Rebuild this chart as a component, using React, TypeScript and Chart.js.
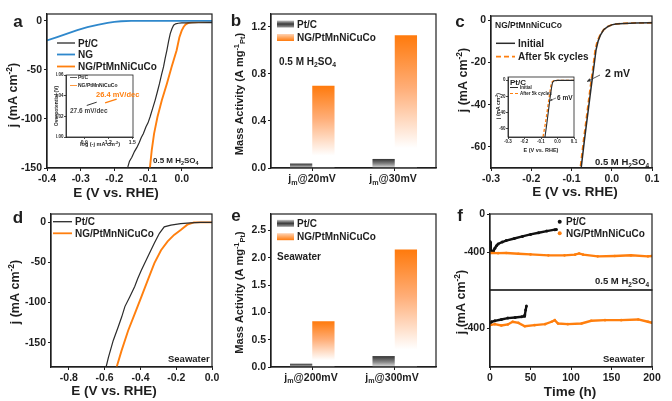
import React, { useEffect, useRef } from 'react';
import { Chart, registerables } from 'chart.js';
Chart.register(...registerables);

const FAM = "'Liberation Sans', Arial, Helvetica, sans-serif";
const W = 672, H = 401;
const INK = '#1e1e1e';
const ORANGE = '#ff7f0e';
const BLUE = '#2f88cc';
const BLACK = '#2b2b2b';

// ---------- panel a ----------
const A_X_TICKS = [-0.4, -0.3, -0.2, -0.1, 0.0];
const A_Y_TICKS = [0, -50, -100, -150];
const A_PTC_E = [0.09, 0.05, 0.02, 0.0, -0.01, -0.018, -0.024, -0.029, -0.034, -0.039, -0.044, -0.049, -0.054, -0.06, -0.066, -0.072, -0.079, -0.086, -0.094, -0.1, -0.106, -0.114, -0.12, -0.126, -0.133, -0.14, -0.148, -0.155, -0.16, -0.166];
const A_PTC_J = [-1.8, -1.9, -2.0, -2.1, -2.4, -3, -4.4, -8, -13, -21, -30, -38, -47, -55, -64, -72, -81, -89, -98, -104, -108, -115, -119, -124, -129, -133, -139, -143, -149, -152];
const A_NG_E = [-0.4, -0.37, -0.34, -0.31, -0.28, -0.25, -0.22, -0.2, -0.18, -0.15, -0.1, 0.0, 0.09];
const A_NG_J = [-20, -16.5, -13, -9.5, -6.5, -4, -2, -1, -0.4, -0.1, 0, 0, 0];
const A_HEA_E = [0.09, 0.05, 0.03, 0.02, 0.012, 0.006, 0.0, -0.007, -0.015, -0.03, -0.044, -0.059, -0.072, -0.082, -0.089, -0.095];
const A_HEA_J = [-1.2, -1.3, -1.5, -2, -3.5, -6, -10, -17, -30, -47, -64, -81, -98, -115, -132, -152];
// inset a
const AI_X_TICKS = [0.9, 1.2, 1.5];
const AI_Y_TICKS = [0.0, 0.02, 0.04, 0.06];
const AI_PTC_X = [0.93, 1.055];
const AI_PTC_Y = [0.0305, 0.0337];
const AI_HEA_X = [1.16, 1.305];
const AI_HEA_Y = [0.033, 0.0366];

// ---------- panel b ----------
const B_CATS = ['20mV', '30mV'];
const B_Y_TICKS = [0.0, 0.4, 0.8, 1.2];
const B_PTC = [0.038, 0.077];
const B_HEA = [0.70, 1.13];

// ---------- panel c ----------
const C_X_TICKS = [-0.3, -0.2, -0.1, 0.0, 0.1];
const C_Y_TICKS = [0, -20, -40, -60];
const C_INIT_E = [0.1, 0.06, 0.03, 0.01, 0.0, -0.01, -0.02, -0.028, -0.034, -0.039, -0.045, -0.052, -0.06, -0.068, -0.076];
const C_INIT_J = [-1.2, -1.3, -1.5, -1.8, -2.2, -3, -4.5, -7, -10, -14, -23, -33, -45, -57, -70];
const C_AFTER_E = [0.1, 0.06, 0.03, 0.01, 0.0, -0.01, -0.02, -0.029, -0.036, -0.041, -0.047, -0.054, -0.062, -0.07, -0.078];
const C_AFTER_J = [-1.2, -1.3, -1.5, -1.8, -2.2, -3, -4.5, -7, -10, -14, -23, -33, -45, -57, -70];
// inset c (Pt/C)
const CI_X_TICKS = [-0.3, -0.2, -0.1, 0.0, 0.1];
const CI_Y_TICKS = [0, -20, -40, -60];
const CI_INIT_E = [0.1, 0.0, -0.02, -0.03, -0.035, -0.045, -0.055, -0.065, -0.076];
const CI_INIT_J = [-0.5, -0.5, -1, -3, -8, -22, -38, -54, -70];
const CI_AFTER_E = [0.1, 0.0, -0.025, -0.035, -0.041, -0.051, -0.062, -0.074, -0.088];
const CI_AFTER_J = [-0.5, -0.5, -1, -3, -8, -22, -38, -54, -70];

// ---------- panel d ----------
const D_X_TICKS = [-0.8, -0.6, -0.4, -0.2, 0.0];
const D_Y_TICKS = [0, -50, -100, -150];
const D_PTC_E = [0.0, -0.064, -0.12, -0.175, -0.23, -0.267, -0.294, -0.322, -0.359, -0.395, -0.415, -0.432, -0.46, -0.487, -0.505, -0.524, -0.552, -0.579, -0.592];
const D_PTC_J = [-0.4, -0.4, -1, -2, -3.75, -6, -14, -26, -43, -60, -70, -80, -93, -105, -118, -130, -147, -168, -180];
const D_HEA_E = [0.0, -0.101, -0.138, -0.175, -0.212, -0.248, -0.285, -0.322, -0.359, -0.395, -0.432, -0.469, -0.506, -0.533];
const D_HEA_J = [-0.4, -0.4, -3.3, -10, -16, -24, -35, -51, -72, -93, -114, -135, -160, -180];

// ---------- panel e ----------
const E_CATS = ['200mV', '300mV'];
const E_Y_TICKS = [0.0, 0.5, 1.0, 1.5, 2.0, 2.5];
const E_PTC = [0.06, 0.2];
const E_HEA = [0.835, 2.15];

// ---------- panel f ----------
const F_X_TICKS = [0, 50, 100, 150, 200];
const F_TOP_Y_TICKS = [0, -400];
const F_BOT_Y_TICKS = [-400];
const F_T_PTC_T = [0, 1, 2, 3, 4, 6, 8, 10, 15, 20, 30, 40, 50, 60, 70, 80, 82];
const F_T_PTC_J = [-290, -370, -400, -405, -395, -360, -335, -315, -295, -280, -258, -236, -215, -197, -180, -165, -162];
const F_T_HEA_T = [0, 10, 20, 35, 50, 72, 92, 105, 110, 115, 133, 154, 174, 195, 200];
const F_T_HEA_J = [-411, -412, -411, -418, -425, -435, -435, -428, -415, -428, -446, -442, -435, -446, -442];
const F_B_PTC_T = [0, 2, 6, 14, 22, 31, 39, 42, 43, 44, 45];
const F_B_PTC_J = [-355, -330, -320, -306, -292, -285, -278, -272, -261, -209, -167];
const F_B_HEA_T = [0, 6, 14, 22, 28, 35, 43, 55, 68, 76, 80, 84, 96, 113, 125, 142, 162, 183, 195, 200];
const F_B_HEA_J = [-365, -355, -369, -358, -330, -341, -376, -365, -355, -330, -313, -348, -355, -348, -320, -313, -313, -306, -330, -341];

// ---------- helpers ----------
const zip = (xs: number[], ys: number[]) => xs.map((x, i) => ({ x, y: ys[i] }));
const f1 = (v: number) => { const s = v.toFixed(1); return s === '-0.0' ? '0.0' : s; };
const f2 = (v: number) => v.toFixed(2);
const f0 = (v: number) => String(Math.round(v));

type Seg = { t: string; m?: 'sub' | 'sup' };
function parse(s: string): Seg[] {
  const segs: Seg[] = [];
  const re = /([_^])\{([^}]*)\}/g;
  let last = 0; let m: RegExpExecArray | null;
  while ((m = re.exec(s))) {
    if (m.index > last) segs.push({ t: s.slice(last, m.index) });
    segs.push({ t: m[2], m: m[1] === '_' ? 'sub' : 'sup' });
    last = re.lastIndex;
  }
  if (last < s.length) segs.push({ t: s.slice(last) });
  return segs;
}
function txt(ctx: CanvasRenderingContext2D, s: string, x: number, y: number, size: number, o: any = {}) {
  const { color = INK, align = 'left', rot = false, weight = 'bold' } = o;
  const segs = parse(s);
  ctx.save();
  const fontFor = (sg: Seg) => `${weight} ${sg.m ? size * 0.68 : size}px ${FAM}`;
  const ws = segs.map((sg) => { ctx.font = fontFor(sg); return ctx.measureText(sg.t).width; });
  const tot = ws.reduce((a, b) => a + b, 0);
  ctx.translate(x, y);
  if (rot) ctx.rotate(-Math.PI / 2);
  let cx = align === 'left' ? 0 : align === 'center' ? -tot / 2 : -tot;
  ctx.fillStyle = color; ctx.textBaseline = 'alphabetic'; ctx.textAlign = 'left';
  segs.forEach((sg, i) => {
    ctx.font = fontFor(sg);
    const dy = sg.m === 'sub' ? size * 0.22 : sg.m === 'sup' ? -size * 0.4 : 0;
    ctx.fillText(sg.t, cx, size * 0.36 + dy);
    cx += ws[i];
  });
  ctx.restore();
}
function ln(ctx: CanvasRenderingContext2D, x1: number, y1: number, x2: number, y2: number, color: string, w: number, dash: number[] = []) {
  ctx.save(); ctx.strokeStyle = color; ctx.lineWidth = w; ctx.setLineDash(dash);
  ctx.beginPath(); ctx.moveTo(x1, y1); ctx.lineTo(x2, y2); ctx.stroke(); ctx.restore();
}
function arrow(ctx: CanvasRenderingContext2D, x1: number, y1: number, x2: number, y2: number, color: string, w: number, head: number) {
  ln(ctx, x1, y1, x2, y2, color, w);
  const a = Math.atan2(y2 - y1, x2 - x1);
  ctx.save(); ctx.fillStyle = color; ctx.beginPath();
  ctx.moveTo(x2, y2);
  ctx.lineTo(x2 - head * Math.cos(a - 0.45), y2 - head * Math.sin(a - 0.45));
  ctx.lineTo(x2 - head * Math.cos(a + 0.45), y2 - head * Math.sin(a + 0.45));
  ctx.closePath(); ctx.fill(); ctx.restore();
}
function dot(ctx: CanvasRenderingContext2D, x: number, y: number, r: number, color: string) {
  ctx.save(); ctx.fillStyle = color; ctx.beginPath(); ctx.arc(x, y, r, 0, Math.PI * 2); ctx.fill(); ctx.restore();
}
function gradBox(ctx: CanvasRenderingContext2D, x: number, y: number, w: number, h: number, kind: string) {
  const g = ctx.createLinearGradient(0, y, 0, y + h);
  if (kind === 'o') { g.addColorStop(0, '#ffd3b4'); g.addColorStop(1, '#ff7a0c'); }
  else { g.addColorStop(0, '#c8c8c8'); g.addColorStop(0.5, '#3a3a3a'); g.addColorStop(1, '#9a9a9a'); }
  ctx.save(); ctx.fillStyle = g; ctx.fillRect(x, y, w, h); ctx.restore();
}

type Area = { l: number; r: number; t: number; b: number };
function linAxis(spec: any, isX: boolean, thick: number) {
  return {
    type: 'linear',
    position: isX ? 'bottom' : 'left',
    min: spec.min, max: spec.max,
    display: spec.display ?? true,
    afterBuildTicks: (s: any) => { s.ticks = spec.ticks.map((v: number) => ({ value: v })); },
    afterFit: (s: any) => {
      if (isX) s.height = thick; else s.width = thick;
      s.paddingLeft = 0; s.paddingRight = 0; s.paddingTop = 0; s.paddingBottom = 0;
    },
    grid: { display: true, drawOnChartArea: false, drawTicks: true, tickLength: spec.tickLen ?? 3, color: INK, lineWidth: spec.lw ?? 1 },
    border: { display: true, color: INK, width: spec.lw ?? 1.2 },
    ticks: {
      display: spec.labels ?? true, autoSkip: false, maxRotation: 0, minRotation: 0,
      padding: spec.pad ?? 2, color: INK,
      font: { family: FAM, size: spec.size ?? 10.5, weight: 'bold' },
      callback: (v: any) => spec.fmt(Number(v)),
    },
  };
}
function baseOpts(area: Area, yw: number, xh: number, scales: any) {
  return {
    responsive: false, animation: false, devicePixelRatio: 1, events: [],
    layout: { autoPadding: false, padding: { left: area.l - yw, top: area.t, right: W - area.r, bottom: H - area.b - xh } },
    plugins: { legend: { display: false }, tooltip: { enabled: false }, title: { display: false } },
    scales,
  };
}
function framePlugin(draw: (ctx: CanvasRenderingContext2D, chart: any) => void, lw = 1.2) {
  return {
    id: 'extras',
    afterDraw: (chart: any) => {
      const ctx = chart.ctx; const a = chart.chartArea;
      ctx.save(); ctx.strokeStyle = INK; ctx.lineWidth = lw;
      ctx.strokeRect(a.left, a.top, a.right - a.left, a.bottom - a.top); ctx.restore();
      draw(ctx, chart);
    },
  };
}
function lineDs(xs: number[], ys: number[], color: string, w: number, dash: number[] = [], pr = 0) {
  return { data: zip(xs, ys), showLine: true, borderColor: color, backgroundColor: color, borderWidth: w, borderDash: dash, pointRadius: pr, pointBorderWidth: 0, tension: 0 };
}
function lineChart(cv: HTMLCanvasElement, area: Area, yw: number, xh: number, xs: any, ys: any, datasets: any[], draw: any, lw = 1.2) {
  return new Chart(cv, {
    type: 'scatter',
    data: { datasets },
    options: baseOpts(area, yw, xh, { x: linAxis(xs, true, xh), y: linAxis(ys, false, yw) }) as any,
    plugins: [framePlugin(draw, lw)],
  } as any);
}
function barGrad(kind: string) {
  return (c: any) => {
    const chart = c.chart;
    if (!chart.chartArea || c.type !== 'data') return kind === 'o' ? ORANGE : '#555';
    const ys = chart.scales.y;
    const top = ys.getPixelForValue(c.raw); const base = ys.getPixelForValue(0);
    const g = chart.ctx.createLinearGradient(0, top, 0, base + 0.01);
    if (kind === 'o') { g.addColorStop(0, '#ff7a0c'); g.addColorStop(0.4, '#ffae78'); g.addColorStop(0.85, '#ffffff'); g.addColorStop(1, '#ffffff'); }
    else { g.addColorStop(0, '#333333'); g.addColorStop(0.55, '#888888'); g.addColorStop(1, '#e4e4e4'); }
    return g;
  };
}
function barChart(cv: HTMLCanvasElement, area: Area, cats: string[], ptc: number[], hea: number[], ys: any, draw: any) {
  const yw = 30, xh = 20;
  return new Chart(cv, {
    type: 'bar',
    data: {
      labels: cats,
      datasets: [
        { data: ptc, backgroundColor: barGrad('g'), borderWidth: 0, categoryPercentage: 0.54, barPercentage: 1.0 },
        { data: hea, backgroundColor: barGrad('o'), borderWidth: 0, categoryPercentage: 0.54, barPercentage: 1.0 },
      ],
    },
    options: baseOpts(area, yw, xh, {
      x: {
        type: 'category', offset: true,
        afterFit: (s: any) => { s.height = xh; s.paddingLeft = 0; s.paddingRight = 0; },
        grid: { display: true, offset: false, drawOnChartArea: false, drawTicks: true, tickLength: 3, color: INK },
        border: { display: true, color: INK, width: 1.2 },
        ticks: { display: false },
      },
      y: linAxis(ys, false, yw),
    }) as any,
    plugins: [framePlugin(draw)],
  } as any);
}

// ---------- areas ----------
const AR_A = { l: 47, r: 212, t: 14, b: 168 };
const AR_AI = { l: 66, r: 133, t: 75, b: 137 };
const AR_B = { l: 271, r: 436, t: 14, b: 168 };
const AR_C = { l: 491, r: 652, t: 16, b: 168 };
const AR_CI = { l: 508, r: 574, t: 77, b: 137 };
const AR_D = { l: 51, r: 212, t: 214, b: 367 };
const AR_E = { l: 271, r: 436, t: 214, b: 367 };
const AR_FT = { l: 490, r: 652, t: 214, b: 290 };
const AR_FB = { l: 490, r: 652, t: 290, b: 367 };

const JTITLE = 'j (mA cm^{-2})';
const MATITLE = 'Mass Activity (A mg^{-1}_{Pt})';
const ETITLE = 'E (V vs. RHE)';

const BUILDERS: ((cv: HTMLCanvasElement) => any)[] = [
  // a
  (cv) => lineChart(cv, AR_A, 30, 20,
    { min: -0.4, max: 0.09, ticks: A_X_TICKS, fmt: f1 },
    { min: -150, max: 7, ticks: A_Y_TICKS, fmt: f0 },
    [lineDs(A_NG_E, A_NG_J, BLUE, 1.8), lineDs(A_PTC_E, A_PTC_J, BLACK, 1.2), lineDs(A_HEA_E, A_HEA_J, ORANGE, 1.9)],
    (ctx: CanvasRenderingContext2D) => {
      txt(ctx, 'a', 18, 21, 17, { align: 'center' });
      txt(ctx, JTITLE, 12, 95, 12.5, { align: 'center', rot: true });
      txt(ctx, ETITLE, 116, 192, 13.5, { align: 'center' });
      ln(ctx, 57, 43, 75, 43, BLACK, 1.3); txt(ctx, 'Pt/C', 78, 43, 10);
      ln(ctx, 57, 54.5, 75, 54.5, BLUE, 1.8); txt(ctx, 'NG', 78, 54.5, 10);
      ln(ctx, 57, 66.5, 75, 66.5, ORANGE, 1.8); txt(ctx, 'NG/PtMnNiCuCo', 78, 66.5, 10);
      txt(ctx, '0.5 M H_{2}SO_{4}', 153, 160, 8);
    }),
  // inset a
  (cv) => lineChart(cv, AR_AI, 10, 8,
    { min: 0.67, max: 1.51, ticks: AI_X_TICKS, fmt: f1, size: 5, tickLen: 2, pad: 0.5, lw: 0.8 },
    { min: 0, max: 0.06, ticks: AI_Y_TICKS, fmt: f2, size: 4.5, tickLen: 2, pad: 0.5, lw: 0.8 },
    [lineDs(AI_PTC_X, AI_PTC_Y, '#333', 1), lineDs(AI_HEA_X, AI_HEA_Y, ORANGE, 1.2)],
    (ctx: CanvasRenderingContext2D) => {
      ln(ctx, 70, 77.5, 77, 77.5, '#333', 0.8); txt(ctx, 'Pt/C', 78, 77.5, 5);
      ln(ctx, 70, 85.5, 77, 85.5, ORANGE, 0.8); txt(ctx, 'NG/PtMnNiCuCo', 78, 85.5, 5);
      txt(ctx, '26.4 mV/dec', 96, 94, 7.5, { color: ORANGE });
      txt(ctx, '27.6 mV/dec', 70, 111, 6.5, { color: '#444' });
      txt(ctx, 'log (-j mA cm^{-2})', 100, 144, 5.5, { align: 'center' });
      txt(ctx, 'Overpotential (V)', 56, 106, 5, { align: 'center', rot: true });
    }, 0.8),
  // b
  (cv) => barChart(cv, AR_B, B_CATS, B_PTC, B_HEA,
    { min: 0, max: 1.31, ticks: B_Y_TICKS, fmt: f1 },
    (ctx: CanvasRenderingContext2D) => {
      txt(ctx, 'b', 236, 20, 17, { align: 'center' });
      txt(ctx, MATITLE, 239, 94, 11, { align: 'center', rot: true });
      B_CATS.forEach((c, i) => txt(ctx, 'j_{m}@' + c, [312, 393][i], 178.5, 10.5, { align: 'center' }));
      gradBox(ctx, 277, 20.5, 17, 7, 'g'); txt(ctx, 'Pt/C', 297, 24, 10);
      gradBox(ctx, 277, 34, 17, 7, 'o'); txt(ctx, 'NG/PtMnNiCuCo', 297, 37.7, 10);
      txt(ctx, '0.5 M H_{2}SO_{4}', 279, 61, 10);
    }),
  // c
  (cv) => lineChart(cv, AR_C, 30, 20,
    { min: -0.3, max: 0.1, ticks: C_X_TICKS, fmt: f1 },
    { min: -70, max: 2, ticks: C_Y_TICKS, fmt: f0 },
    [lineDs(C_INIT_E, C_INIT_J, BLACK, 1.5), lineDs(C_AFTER_E, C_AFTER_J, ORANGE, 1.8, [5, 3])],
    (ctx: CanvasRenderingContext2D) => {
      txt(ctx, 'c', 460, 21, 17, { align: 'center' });
      txt(ctx, JTITLE, 462, 80, 12.5, { align: 'center', rot: true });
      txt(ctx, ETITLE, 575, 191, 13.5, { align: 'center' });
      txt(ctx, 'NG/PtMnNiCuCo', 495, 25, 8.5);
      ln(ctx, 496, 43.3, 515, 43.3, BLACK, 1.5); txt(ctx, 'Initial', 518, 43.3, 10);
      ln(ctx, 496, 56.7, 515, 56.7, ORANGE, 1.8, [5, 3]); txt(ctx, 'After 5k cycles', 518, 56.7, 10);
      arrow(ctx, 600, 75, 587, 81.5, '#333', 0.8, 4);
      txt(ctx, '2 mV', 605, 73.5, 10.5);
      txt(ctx, '0.5 M H_{2}SO_{4}', 595, 162, 9.5);
    }),
  // inset c
  (cv) => lineChart(cv, AR_CI, 10, 8,
    { min: -0.3, max: 0.1, ticks: CI_X_TICKS, fmt: f1, size: 4.5, tickLen: 2, pad: 0.5, lw: 0.8 },
    { min: -70, max: 3.7, ticks: CI_Y_TICKS, fmt: f0, size: 4.5, tickLen: 2, pad: 0.5, lw: 0.8 },
    [lineDs(CI_INIT_E, CI_INIT_J, BLACK, 1.1), lineDs(CI_AFTER_E, CI_AFTER_J, ORANGE, 1.3, [3, 2])],
    (ctx: CanvasRenderingContext2D) => {
      txt(ctx, 'Pt/C', 510, 82, 8);
      ln(ctx, 510, 87.5, 518, 87.5, BLACK, 1); txt(ctx, 'Initial', 520, 87.5, 4.5);
      ln(ctx, 510, 93.5, 518, 93.5, ORANGE, 1.1, [3, 2]); txt(ctx, 'After 5k cycles', 520, 93.5, 4.5);
      arrow(ctx, 556, 98, 550, 100.5, '#333', 0.6, 2.5);
      txt(ctx, '6 mV', 557, 98, 6.5);
      txt(ctx, ETITLE, 541, 150, 5.5, { align: 'center' });
      txt(ctx, JTITLE, 498, 106, 5, { align: 'center', rot: true });
    }, 0.8),
  // d
  (cv) => lineChart(cv, AR_D, 30, 20,
    { min: -0.9, max: 0, ticks: D_X_TICKS, fmt: f1 },
    { min: -180, max: 10, ticks: D_Y_TICKS, fmt: f0 },
    [lineDs(D_PTC_E, D_PTC_J, BLACK, 1.2), lineDs(D_HEA_E, D_HEA_J, ORANGE, 1.9)],
    (ctx: CanvasRenderingContext2D) => {
      txt(ctx, 'd', 18, 217, 17, { align: 'center' });
      txt(ctx, JTITLE, 14, 292, 12.5, { align: 'center', rot: true });
      txt(ctx, ETITLE, 114, 390, 13.5, { align: 'center' });
      ln(ctx, 53, 221.7, 72, 221.7, BLACK, 1.3); txt(ctx, 'Pt/C', 75, 221.7, 10);
      ln(ctx, 53, 233.3, 72, 233.3, ORANGE, 1.8); txt(ctx, 'NG/PtMnNiCuCo', 75, 233.3, 10);
      txt(ctx, 'Seawater', 168, 359, 9.5);
    }),
  // e
  (cv) => barChart(cv, AR_E, E_CATS, E_PTC, E_HEA,
    { min: 0, max: 2.8, ticks: E_Y_TICKS, fmt: f1 },
    (ctx: CanvasRenderingContext2D) => {
      txt(ctx, 'e', 236, 215, 17, { align: 'center' });
      txt(ctx, MATITLE, 239, 292.5, 11, { align: 'center', rot: true });
      E_CATS.forEach((c, i) => txt(ctx, 'j_{m}@' + c, [311, 392][i], 377, 10.5, { align: 'center' }));
      gradBox(ctx, 277, 219.8, 17, 7, 'g'); txt(ctx, 'Pt/C', 297, 223.3, 10);
      gradBox(ctx, 277, 233.2, 17, 7, 'o'); txt(ctx, 'NG/PtMnNiCuCo', 297, 236.7, 10);
      txt(ctx, 'Seawater', 277, 256, 10);
    }),
  // f top
  (cv) => lineChart(cv, AR_FT, 30, 0,
    { min: 0, max: 200, ticks: F_X_TICKS, fmt: f0, display: false },
    { min: -800, max: 0, ticks: F_TOP_Y_TICKS, fmt: f0 },
    [lineDs(F_T_HEA_T, F_T_HEA_J, ORANGE, 2.4, [], 1.3), lineDs(F_T_PTC_T, F_T_PTC_J, '#111', 2.4, [], 1.5)],
    (ctx: CanvasRenderingContext2D) => {
      txt(ctx, 'f', 460, 215, 17, { align: 'center' });
      dot(ctx, 559.7, 221.7, 2, '#111'); txt(ctx, 'Pt/C', 566, 221.7, 10);
      dot(ctx, 559.7, 233.3, 2, ORANGE); txt(ctx, 'NG/PtMnNiCuCo', 566, 233.3, 10);
      txt(ctx, '0.5 M H_{2}SO_{4}', 595, 281, 9.5);
    }),
  // f bottom
  (cv) => lineChart(cv, AR_FB, 30, 20,
    { min: 0, max: 200, ticks: F_X_TICKS, fmt: f0 },
    { min: -800, max: 0, ticks: F_BOT_Y_TICKS, fmt: f0 },
    [lineDs(F_B_HEA_T, F_B_HEA_J, ORANGE, 2.4, [], 1.3), lineDs(F_B_PTC_T, F_B_PTC_J, '#111', 2.4, [], 1.5)],
    (ctx: CanvasRenderingContext2D) => {
      txt(ctx, JTITLE, 460, 302, 12.5, { align: 'center', rot: true });
      txt(ctx, 'Time (h)', 570, 391, 13.5, { align: 'center' });
      txt(ctx, 'Seawater', 603, 359, 9.5);
    }),
];

export default function App() {
  const refs = useRef<(HTMLCanvasElement | null)[]>([]);
  useEffect(() => {
    const charts = BUILDERS.map((b, i) => b(refs.current[i] as HTMLCanvasElement));
    return () => { charts.forEach((c) => c.destroy()); };
  }, []);
  return (
    <div style={{ position: 'absolute', left: 0, top: 0, width: W, height: H, background: '#fff', overflow: 'hidden' }}>
      {BUILDERS.map((_, i) => (
        <canvas key={i} ref={(el) => { refs.current[i] = el; }} width={W} height={H}
          style={{ position: 'absolute', left: 0, top: 0, width: W, height: H }} />
      ))}
    </div>
  );
}
